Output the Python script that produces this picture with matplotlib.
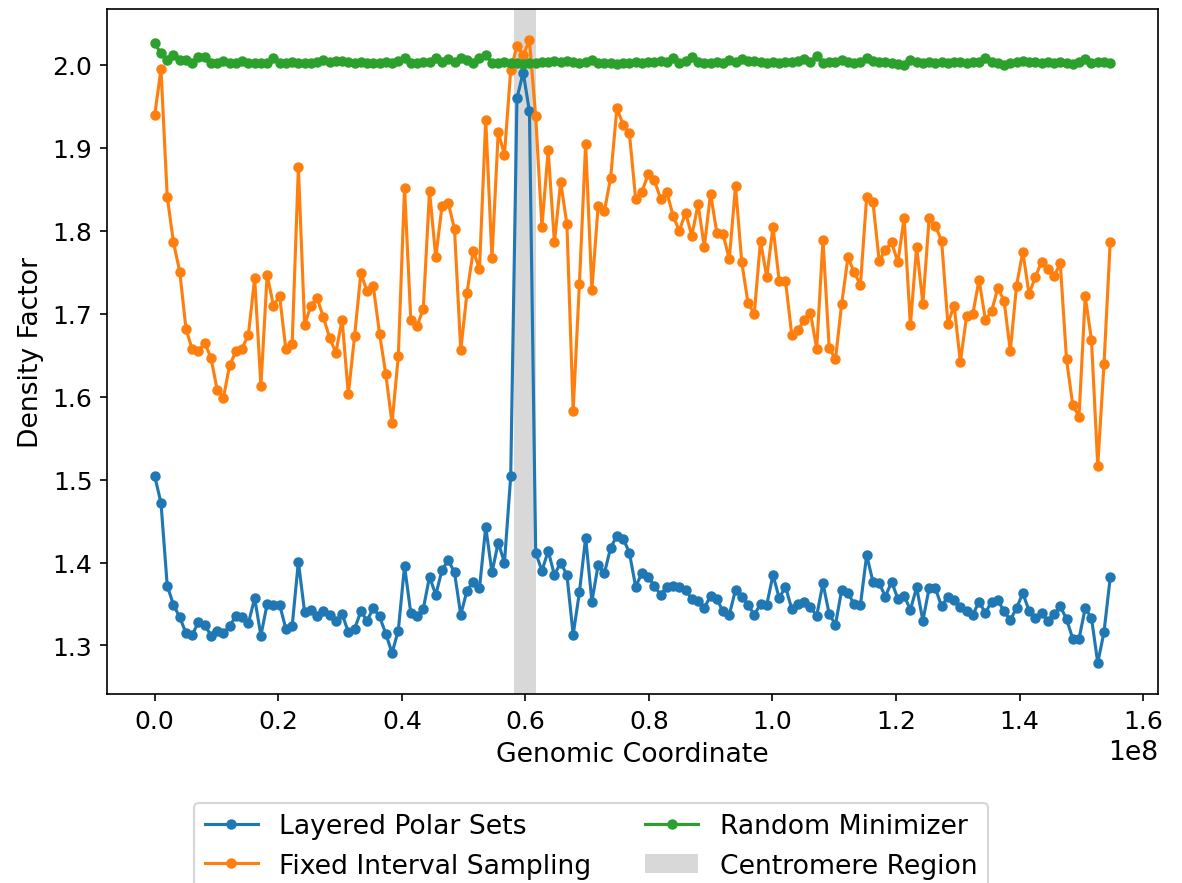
import numpy as np
import matplotlib
matplotlib.use("Agg")
from matplotlib import pyplot as plt

# window start positions along the chromosome (about 1.011 Mb per window)
n_windows = 154
window_size = 1.011e6
positions = np.arange(n_windows) * window_size

centromere_start = 58.2e6
centromere_end = 61.8e6

layered_polar = [
    1.504, 1.472, 1.372, 1.349, 1.334, 1.315, 1.313, 1.328, 1.325, 1.312,
    1.317, 1.315, 1.323, 1.336, 1.334, 1.327, 1.357, 1.312, 1.350, 1.349,
    1.349, 1.320, 1.323, 1.401, 1.340, 1.343, 1.335, 1.341, 1.337, 1.329,
    1.338, 1.316, 1.320, 1.341, 1.330, 1.345, 1.335, 1.314, 1.291, 1.318,
    1.396, 1.339, 1.335, 1.344, 1.383, 1.361, 1.391, 1.403, 1.388, 1.337,
    1.366, 1.377, 1.369, 1.443, 1.388, 1.424, 1.400, 1.504, 1.960, 1.991,
    1.944, 1.412, 1.390, 1.414, 1.385, 1.400, 1.385, 1.313, 1.364, 1.430,
    1.353, 1.397, 1.387, 1.418, 1.432, 1.429, 1.412, 1.371, 1.387, 1.383,
    1.372, 1.361, 1.371, 1.372, 1.370, 1.367, 1.356, 1.354, 1.345, 1.360,
    1.356, 1.341, 1.337, 1.367, 1.359, 1.349, 1.337, 1.350, 1.349, 1.385,
    1.357, 1.371, 1.344, 1.350, 1.353, 1.346, 1.336, 1.375, 1.338, 1.325,
    1.367, 1.363, 1.350, 1.349, 1.409, 1.377, 1.375, 1.359, 1.377, 1.356,
    1.360, 1.343, 1.370, 1.330, 1.369, 1.369, 1.347, 1.359, 1.355, 1.346,
    1.341, 1.337, 1.353, 1.339, 1.353, 1.355, 1.341, 1.331, 1.345, 1.363,
    1.342, 1.333, 1.339, 1.330, 1.338, 1.347, 1.332, 1.308, 1.308, 1.345,
    1.333, 1.279, 1.316, 1.382,
]

fixed_interval = [
    1.940, 1.995, 1.841, 1.786, 1.751, 1.682, 1.657, 1.655, 1.665, 1.647,
    1.608, 1.599, 1.638, 1.655, 1.658, 1.675, 1.743, 1.613, 1.747, 1.710,
    1.721, 1.657, 1.663, 1.877, 1.686, 1.710, 1.719, 1.696, 1.671, 1.653,
    1.693, 1.603, 1.673, 1.749, 1.727, 1.733, 1.676, 1.627, 1.568, 1.649,
    1.852, 1.693, 1.685, 1.706, 1.848, 1.768, 1.830, 1.834, 1.802, 1.656,
    1.725, 1.776, 1.754, 1.934, 1.767, 1.919, 1.892, 1.994, 2.023, 2.012,
    2.030, 1.938, 1.805, 1.897, 1.786, 1.859, 1.808, 1.583, 1.736, 1.905,
    1.729, 1.830, 1.824, 1.864, 1.948, 1.928, 1.918, 1.839, 1.847, 1.868,
    1.861, 1.839, 1.847, 1.818, 1.800, 1.822, 1.794, 1.832, 1.781, 1.845,
    1.798, 1.796, 1.766, 1.854, 1.762, 1.713, 1.700, 1.788, 1.744, 1.805,
    1.739, 1.740, 1.675, 1.680, 1.693, 1.701, 1.658, 1.789, 1.659, 1.645,
    1.712, 1.768, 1.750, 1.735, 1.841, 1.835, 1.764, 1.777, 1.786, 1.762,
    1.816, 1.686, 1.781, 1.712, 1.815, 1.806, 1.788, 1.688, 1.710, 1.642,
    1.697, 1.700, 1.741, 1.693, 1.703, 1.731, 1.716, 1.655, 1.734, 1.775,
    1.724, 1.744, 1.763, 1.754, 1.745, 1.761, 1.645, 1.590, 1.576, 1.721,
    1.668, 1.517, 1.639, 1.787,
]

random_minimizer = [
    2.026, 2.014, 2.006, 2.012, 2.006, 2.006, 2.003, 2.010, 2.010, 2.002,
    2.002, 2.005, 2.002, 2.003, 2.005, 2.002, 2.003, 2.002, 2.003, 2.009,
    2.003, 2.003, 2.004, 2.003, 2.003, 2.003, 2.004, 2.006, 2.004, 2.005,
    2.005, 2.004, 2.003, 2.004, 2.003, 2.002, 2.003, 2.004, 2.003, 2.005,
    2.008, 2.003, 2.002, 2.004, 2.004, 2.008, 2.004, 2.007, 2.004, 2.009,
    2.006, 2.003, 2.008, 2.012, 2.003, 2.002, 2.004, 2.003, 2.002, 2.001,
    2.003, 2.003, 2.004, 2.004, 2.005, 2.004, 2.005, 2.004, 2.002, 2.004,
    2.006, 2.003, 2.002, 2.002, 2.001, 2.002, 2.003, 2.004, 2.003, 2.004,
    2.004, 2.005, 2.004, 2.008, 2.003, 2.005, 2.010, 2.004, 2.002, 2.002,
    2.004, 2.003, 2.006, 2.004, 2.007, 2.005, 2.005, 2.004, 2.003, 2.004,
    2.003, 2.004, 2.004, 2.005, 2.007, 2.004, 2.011, 2.003, 2.004, 2.004,
    2.006, 2.004, 2.003, 2.004, 2.008, 2.005, 2.004, 2.004, 2.003, 2.001,
    2.000, 2.006, 2.004, 2.003, 2.004, 2.003, 2.004, 2.003, 2.004, 2.004,
    2.003, 2.004, 2.004, 2.008, 2.004, 2.003, 2.000, 2.003, 2.004, 2.005,
    2.004, 2.004, 2.003, 2.004, 2.003, 2.004, 2.003, 2.001, 2.004, 2.007,
    2.003, 2.004, 2.004, 2.003,
]

plt.rcParams['font.size'] = 12.8

fig = plt.figure(figsize=(7.88, 5.893), dpi=150)
ax = fig.add_axes([0.0905, 0.2138, 0.8892, 0.7749])

ax.plot(positions, layered_polar, marker='o', markersize=4, label='Layered Polar Sets')
ax.plot(positions, fixed_interval, marker='o', markersize=4, label='Fixed Interval Sampling')
ax.plot(positions, random_minimizer, marker='o', markersize=4, label='Random Minimizer')
ax.axvspan(centromere_start, centromere_end, color='gray', alpha=0.3, linewidth=0,
           label='Centromere Region')

ax.tick_params(labelsize=12)
ax.set_xlabel('Genomic Coordinate')
ax.set_ylabel('Density Factor')

fig.legend(loc='upper center', bbox_to_anchor=(0.5, 0.106), ncol=2)

fig.savefig('out.png', dpi=150)
